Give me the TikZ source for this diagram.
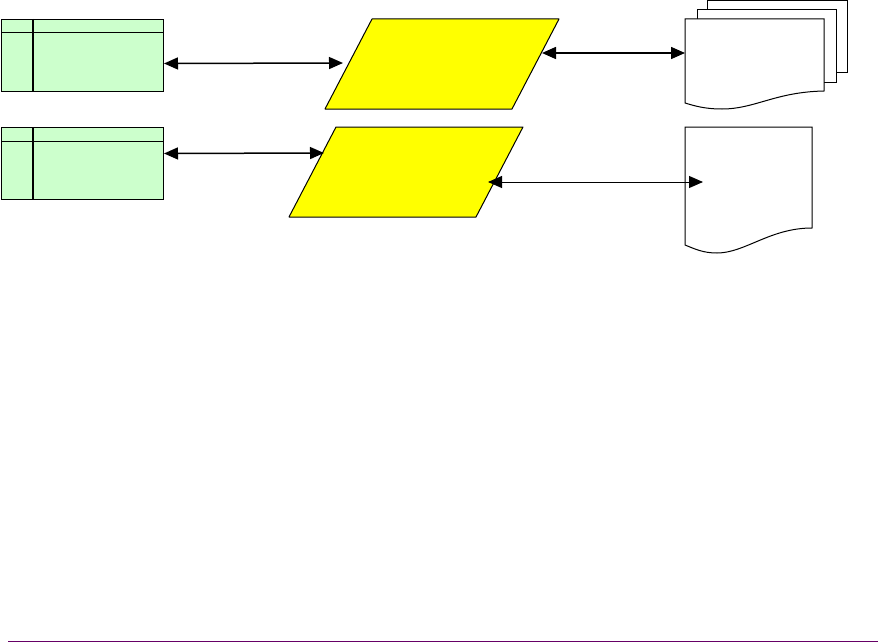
\documentclass[tikz,border=0pt]{standalone}
\usepackage{xcolor}
\usetikzlibrary{positioning}
\usetikzlibrary{arrows.meta}
\definecolor{tblgreen}{RGB}{204,255,204}
\definecolor{ioyellow}{RGB}{255,255,0}
\definecolor{rulepurple}{RGB}{102,0,102}
\tikzset{tbl/.style = {draw, fill=tblgreen, line width=1pt, inner sep=0,
                       minimum width=162pt, minimum height=72pt,
                       anchor=north west}}
\tikzset{io/.style = {draw, fill=ioyellow, line width=1pt, line join=round}}
\tikzset{docpage/.style = {draw, fill=white, line width=1pt}}
\tikzset{link/.style = {{Triangle[length=14pt,width=12pt]}-{Triangle[length=14pt,width=12pt]},
                        line width=1.5pt}}
\tikzset{thinlink/.style = {link, line width=1pt}}

\begin{document}
\begin{tikzpicture}[x=1pt, y=-1pt]
    \useasboundingbox (0,0) rectangle (878,642);

    % tables
    \node[tbl] (tblA) at (1,19) {};
    \node[tbl] (tblB) at (1,127) {};
    \draw[line width=1pt] ([yshift=-14pt]tblA.north west) -- ([yshift=-14pt]tblA.north east);
    \draw[line width=2pt] ([xshift=32pt]tblA.north west) -- ([xshift=32pt]tblA.south west);
    \draw[line width=1pt] ([yshift=-14pt]tblB.north west) -- ([yshift=-14pt]tblB.north east);
    \draw[line width=2pt] ([xshift=32pt]tblB.north west) -- ([xshift=32pt]tblB.south west);

    % data blocks
    \draw[io] (372,19) -- (559,19) -- (512,109) -- (325,109) -- cycle;
    \draw[io] (336,127) -- (523,127) -- (476,217) -- (289,217) -- cycle;
    \coordinate (ioA left) at (343,63);
    \coordinate (ioA right) at (542,53);
    \coordinate (ioB left) at (324,153);
    \coordinate (ioB right) at (488,182);

    % documents
    \draw[docpage] (707,1) rectangle (847,73);
    \draw[docpage] (697,10) rectangle (836,82);
    \draw[docpage] (685,19) -- (824,19) -- (824,91)
        .. controls (775,92) and (755,109) .. (722,109)
        .. controls (705,109) and (695,106) .. (685,103) -- cycle;
    \draw[docpage] (685,127) -- (812,127) -- (812,228)
        .. controls (770,228) and (745,253) .. (717,253)
        .. controls (703,253) and (695,249) .. (685,245) -- cycle;
    \coordinate (docA in) at (685,53);
    \coordinate (docB in) at (703,182);

    % links
    \draw[link] ([yshift=-8pt]tblA.east) -- (ioA left);
    \draw[link] (ioA right) -- (docA in);
    \draw[link] ([yshift=10pt]tblB.east) -- (ioB left);
    \draw[thinlink] (ioB right) -- (docB in);

    \draw[rulepurple, line width=1pt] (8,641) -- (878,641);
\end{tikzpicture}
\end{document}
